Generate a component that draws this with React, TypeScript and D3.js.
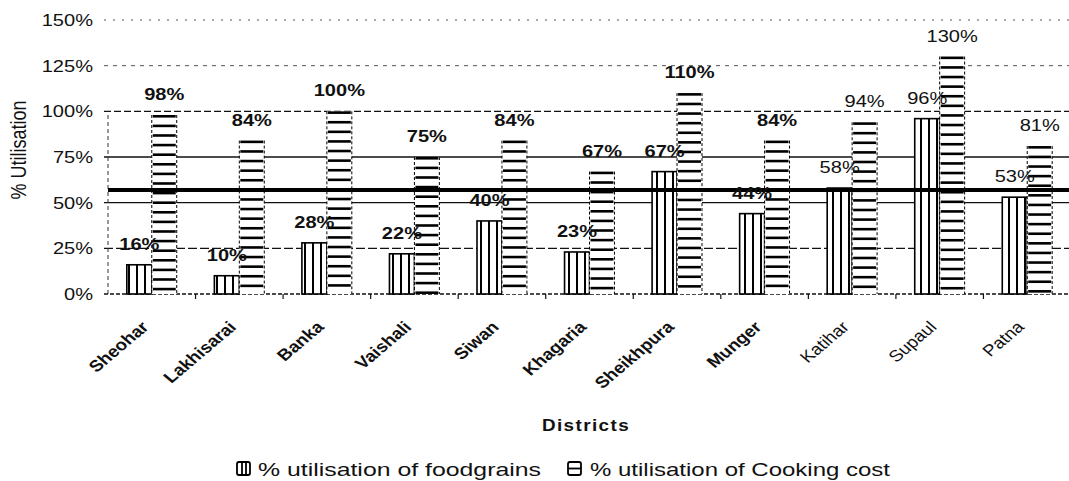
import React, { useRef, useEffect } from "react";
import * as d3 from "d3";

const districts = ["Sheohar", "Lakhisarai", "Banka", "Vaishali", "Siwan", "Khagaria", "Sheikhpura", "Munger", "Katihar", "Supaul", "Patna"];
const foodgrains = [16, 10, 28, 22, 40, 23, 67, 44, 58, 96, 53];
const cookingCost = [98, 84, 100, 75, 84, 67, 110, 84, 94, 130, 81];
const yTicks = [0, 25, 50, 75, 100, 125, 150];
const averageLine = 57;
const seriesNames = ["% utilisation of foodgrains", "% utilisation of Cooking cost"];

const W = 1069;
const H = 481;
const FONT = "'Liberation Sans', Arial, sans-serif";
const SX = 1.18; // the scan is a little wider than tall

const gridDash: Record<number, string> = {
  0: "4 2",
  25: "9 3",
  50: "none",
  75: "none",
  100: "7 3",
  125: "4 5",
  150: "2 7",
};

const App = () => {
  const ref = useRef<SVGSVGElement>(null);

  useEffect(() => {
    drawChart();
  }, []);

  const drawChart = () => {
    const svg = d3.select(ref.current);
    svg.selectAll("*").remove();

    const left = 108;
    const right = 1071;
    const y = d3.scaleLinear().domain([0, 150]).range([294, 20]);
    const x = d3.scaleBand().domain(districts).range([left, right]).paddingInner(0.43).paddingOuter(0.215);
    const xs = d3.scaleBand().domain(["food", "cook"]).range([0, x.bandwidth()]);

    const defs = svg.append("defs");
    const vp = defs.append("pattern").attr("id", "vstripe").attr("patternUnits", "userSpaceOnUse")
      .attr("width", 8).attr("height", 10);
    vp.append("rect").attr("width", 8).attr("height", 10).attr("fill", "#fff");
    vp.append("line").attr("x1", 1).attr("x2", 1).attr("y1", 0).attr("y2", 10)
      .attr("stroke", "#000").attr("stroke-width", 2);

    // gridlines
    const g = svg.append("g");
    yTicks.forEach((t) => {
      g.append("line")
        .attr("x1", left - 4).attr("x2", W)
        .attr("y1", y(t)).attr("y2", y(t))
        .attr("stroke", t >= 125 ? "#555" : "#111")
        .attr("stroke-width", t === 0 ? 1.6 : t >= 125 ? 1 : 1.3)
        .attr("stroke-dasharray", gridDash[t]);
      g.append("text")
        .attr("transform", `translate(93,${y(t)}) scale(${SX},1)`)
        .attr("text-anchor", "end")
        .attr("dy", "0.36em")
        .attr("font-family", FONT)
        .attr("font-size", 17)
        .attr("fill", "#111")
        .text(`${t}%`);
    });

    // left axis
    g.append("line")
      .attr("x1", left).attr("x2", left)
      .attr("y1", y(0)).attr("y2", y(100))
      .attr("stroke", "#333").attr("stroke-width", 1).attr("stroke-dasharray", "4 3");

    // category boundary ticks
    d3.range(1, districts.length).forEach((i) => {
      const bx = left + x.step() * i;
      g.append("line").attr("x1", bx).attr("x2", bx).attr("y1", y(0)).attr("y2", y(0) + 5)
        .attr("stroke", "#111").attr("stroke-width", 1.2);
    });

    // bars
    const bars = svg.append("g");
    districts.forEach((d, i) => {
      const x0 = x(d)!;
      const bw = xs.bandwidth();
      bars.append("rect")
        .attr("x", x0 + xs("food")!)
        .attr("y", y(foodgrains[i]))
        .attr("width", bw)
        .attr("height", y(0) - y(foodgrains[i]))
        .attr("fill", "url(#vstripe)")
        .attr("stroke", "#000").attr("stroke-width", 1.6);

      // cooking cost: horizontal stripes from the top down, dotted sides
      const cx0 = x0 + xs("cook")!;
      const top = y(cookingCost[i]);
      bars.append("rect")
        .attr("x", cx0).attr("y", top)
        .attr("width", bw).attr("height", y(0) - top)
        .attr("fill", "#fff");
      [cx0, cx0 + bw].forEach((sx) => {
        bars.append("line")
          .attr("x1", sx).attr("x2", sx).attr("y1", top).attr("y2", y(0))
          .attr("stroke", "#000").attr("stroke-width", 1).attr("stroke-dasharray", "3 2");
      });
      d3.range(top + 1.3, y(0), 9.6).forEach((sy) => {
        bars.append("line")
          .attr("x1", cx0 + 1).attr("x2", cx0 + bw - 1)
          .attr("y1", sy).attr("y2", sy)
          .attr("stroke", "#000").attr("stroke-width", 2.6);
      });
    });

    // reference line
    svg.append("line")
      .attr("x1", left).attr("x2", W)
      .attr("y1", y(averageLine)).attr("y2", y(averageLine))
      .attr("stroke", "#000").attr("stroke-width", 4);

    // value labels
    const labels = svg.append("g").attr("font-family", FONT).attr("font-size", 17).attr("fill", "#111");
    districts.forEach((d, i) => {
      const weight = i < 8 ? "bold" : "normal";
      const x0 = x(d)!;
      [
        { v: foodgrains[i], k: "food" },
        { v: cookingCost[i], k: "cook" },
      ].forEach(({ v, k }) => {
        const cx = x0 + xs(k)! + xs.bandwidth() / 2;
        labels.append("text")
          .attr("transform", `translate(${cx},${y(v) - 15}) scale(${SX},1)`)
          .attr("text-anchor", "middle")
          .attr("font-weight", weight)
          .text(`${v}%`);
      });
    });

    // category labels
    const cats = svg.append("g").attr("font-family", FONT).attr("font-size", 16).attr("fill", "#111");
    districts.forEach((d, i) => {
      const cx = x(d)! + x.bandwidth() / 2;
      cats.append("text")
        .attr("transform", `translate(${cx - 2},328) scale(${SX},1) rotate(-45)`)
        .attr("text-anchor", "end")
        .attr("font-weight", i < 8 ? "bold" : "normal")
        .text(d);
    });

    // axis titles
    svg.append("text")
      .attr("transform", `translate(586,431) scale(${SX},1)`)
      .attr("text-anchor", "middle")
      .attr("font-family", FONT).attr("font-size", 16).attr("font-weight", "bold")
      .attr("letter-spacing", 1.2)
      .attr("fill", "#111")
      .text("Districts");

    svg.append("text")
      .attr("transform", `translate(26,150) scale(${SX},1) rotate(-90)`)
      .attr("text-anchor", "middle")
      .attr("font-family", FONT).attr("font-size", 18)
      .attr("fill", "#111")
      .text("% Utilisation");

    // legend
    const legendItems = [
      { name: seriesNames[0], kind: "v", bx: 237, tx: 258, len: 283 },
      { name: seriesNames[1], kind: "h", bx: 568, tx: 590, len: 300 },
    ];
    const lg = svg.append("g");
    legendItems.forEach((it) => {
      lg.append("rect")
        .attr("x", it.bx).attr("y", 462).attr("width", 13).attr("height", 13)
        .attr("fill", "#fff")
        .attr("stroke", "#000").attr("stroke-width", 1.8).attr("rx", 2);
      if (it.kind === "v") {
        [5, 9].forEach((o) => {
          lg.append("line").attr("x1", it.bx + o).attr("x2", it.bx + o).attr("y1", 462).attr("y2", 475)
            .attr("stroke", "#000").attr("stroke-width", 1.8);
        });
      } else {
        lg.append("line").attr("x1", it.bx).attr("x2", it.bx + 13).attr("y1", 468.5).attr("y2", 468.5)
          .attr("stroke", "#000").attr("stroke-width", 1.8);
      }
      lg.append("text")
        .attr("x", it.tx).attr("y", 476)
        .attr("font-family", FONT).attr("font-size", 19).attr("fill", "#111")
        .attr("textLength", it.len).attr("lengthAdjust", "spacingAndGlyphs")
        .text(it.name);
    });
  };

  return (
    <svg
      ref={ref}
      width={W}
      height={H}
      style={{ position: "absolute", left: 0, top: 0, background: "#fff" }}
    ></svg>
  );
};

export default App;
